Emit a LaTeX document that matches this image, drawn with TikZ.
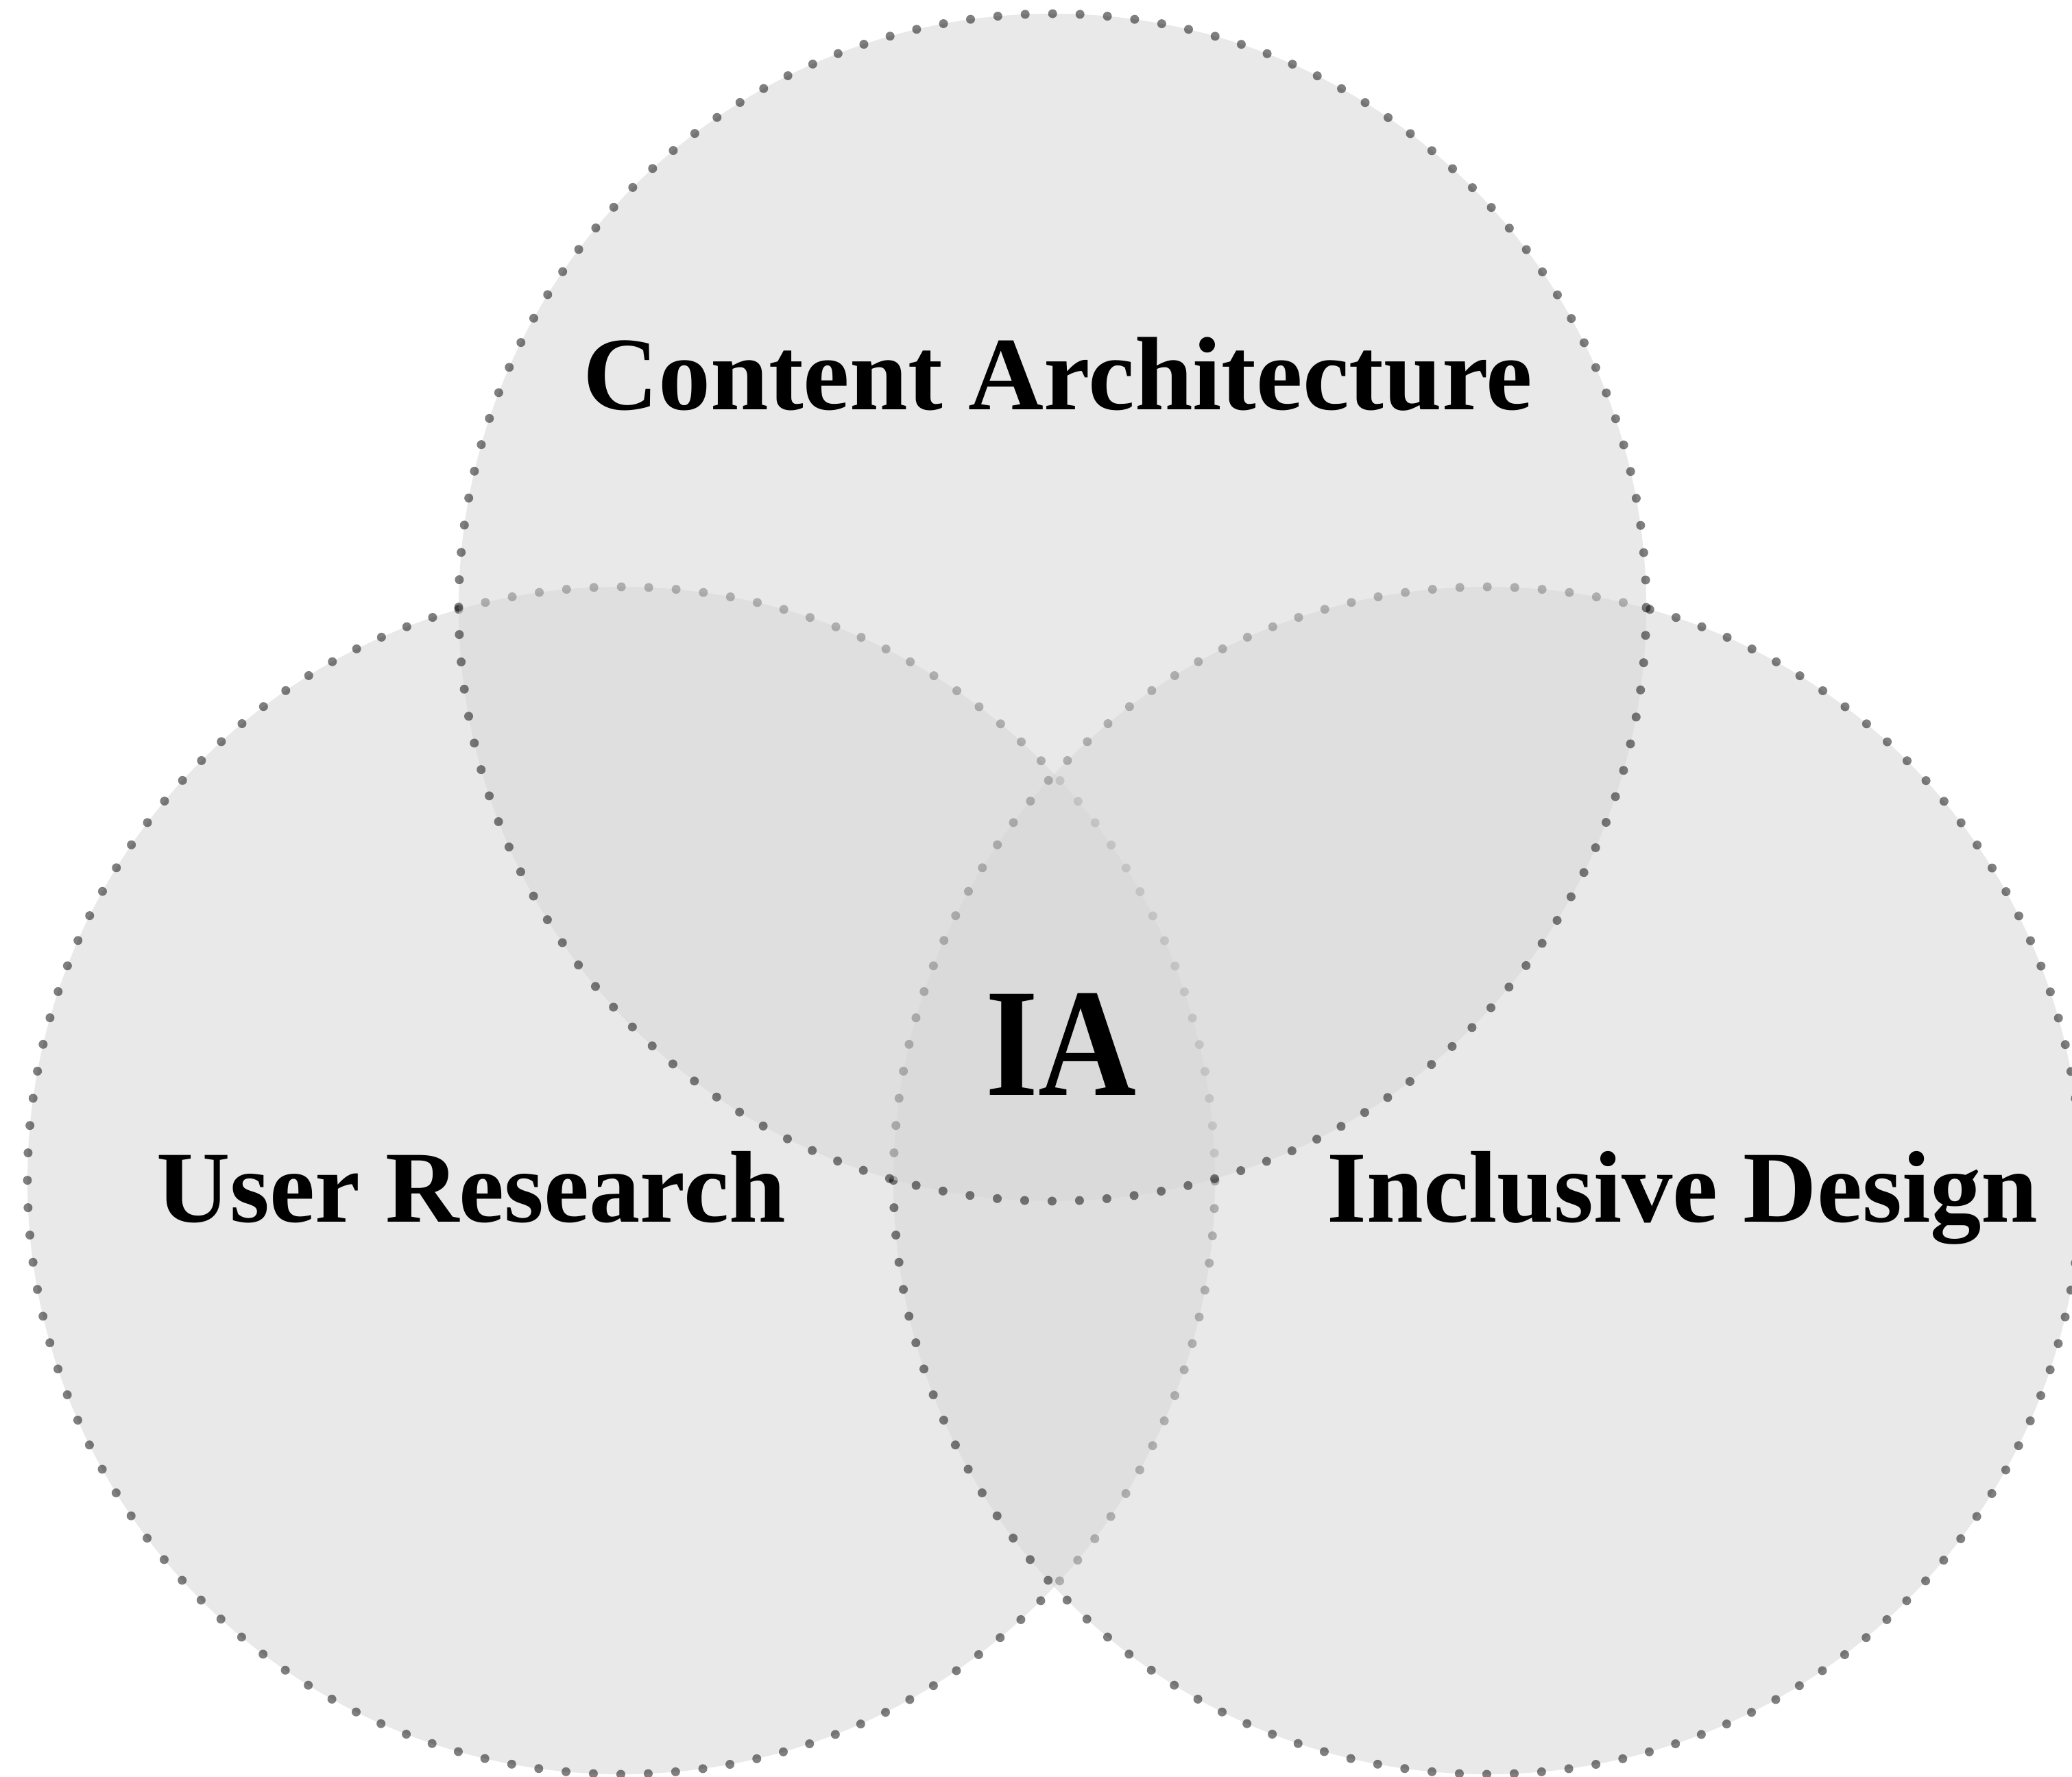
\documentclass[tikz,border=0pt]{standalone}
\usepackage{fontspec}
\setmainfont{Liberation Serif}
\definecolor{vennfill}{RGB}{215,215,215}
\tikzset{
  venn/.style={fill=vennfill, fill opacity=0.545, draw=black, draw opacity=0.5,
    line width=3.7pt, line cap=round, dash pattern=on 0pt off 11.3837pt},
  label/.style={font=\bfseries\fontsize{42.3pt}{50pt}\selectfont, text=black, inner sep=0pt, anchor=base},
  biglabel/.style={font=\bfseries\fontsize{64pt}{72pt}\selectfont, text=black, inner sep=0pt, anchor=base}
}
\begin{document}
\begin{tikzpicture}
\useasboundingbox (0,0) rectangle (30.22,25.92);
\fill[white] (0,0) rectangle (30.22,25.92);
\coordinate (cl) at (9.06,8.70);
\coordinate (cr) at (21.69,8.70);
\coordinate (ct) at (15.35,17.06);
\draw[venn] (cl) circle[radius=8.66];
\draw[venn] (cr) circle[radius=8.66];
\draw[venn] (ct) circle[radius=8.66];
\node[label, font=\bfseries\fontsize{43.3pt}{50pt}\selectfont] (content) at (15.43,19.94) {Content Architecture};
\node[label] (user) at (6.87,8.09) {User Research};
\node[label] (incl) at (24.54,8.09) {Inclusive Design};
\node[biglabel] (ia) at (15.47,9.94) {\scalebox{0.88}[1]{IA}};
\end{tikzpicture}
\end{document}
